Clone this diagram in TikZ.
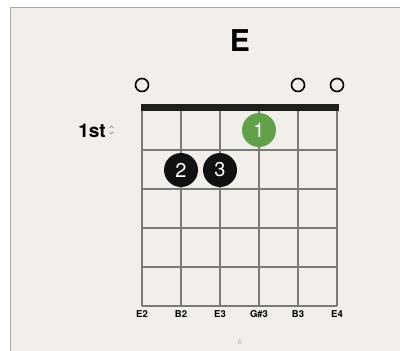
\documentclass[tikz,border=0pt]{standalone}
\usepackage{fontspec}
\setmainfont{TeX Gyre Heros}
\definecolor{bgpaper}{HTML}{F2EFEA}
\definecolor{framegray}{HTML}{A8A6A3}
\definecolor{gridgray}{HTML}{7A7A78}
\definecolor{fingergreen}{HTML}{62A04A}
\definecolor{fingerblack}{HTML}{111111}
\definecolor{faintgray}{HTML}{B0AEAA}
\tikzset{
  gridline/.style={draw=gridgray, line width=1.2pt},
  openstring/.style={circle, draw=black, line width=1.6pt, minimum size=13pt, inner sep=0pt},
  finger/.style={circle, minimum size=34pt, inner sep=0pt, text=white, font=\fontsize{20}{20}\selectfont},
  stringlabel/.style={font=\fontsize{9.5}{10}\selectfont\bfseries, text=black, inner sep=0pt},
}
\begin{document}
\begin{tikzpicture}[x=1pt,y=-1pt]
\useasboundingbox (0,0) rectangle (400,351);
\fill[white] (0,0) rectangle (400,351);
\fill[bgpaper] (10,7) rectangle (400,351);
\draw[framegray, line width=1pt] (10,351) -- (10,7) -- (400,7);
% title
\node[font=\fontsize{30}{30}\selectfont\bfseries] (title) at (240,41) {E};
% fret lines
\foreach \y/\n in {150/f1,189/f2,228/f3,267/f4,306/f5}
  \draw[gridline] (142,\y) -- (337,\y);
% strings
\foreach \x/\n in {142/s1,181/s2,220/s3,259/s4,298/s5,337/s6}
  \coordinate (\n top) at (\x,110);
\foreach \x/\n in {142/s1,181/s2,220/s3,259/s4,298/s5,337/s6}
  \coordinate (\n bot) at (\x,306);
\foreach \n in {s1,s2,s3,s4,s5,s6}
  \draw[gridline] (\n top) -- (\n bot);
% nut
\fill[black!88] (141,103.5) rectangle (339,110.5);
% open strings
\node[openstring] (o1) at (142,85) {};
\node[openstring] (o5) at (298,85) {};
\node[openstring] (o6) at (337,85) {};
% fingers
\node[finger, fill=fingergreen] (fg1) at (259,130) {1};
\node[finger, fill=fingerblack] (fg2) at (181,170) {2};
\node[finger, fill=fingerblack] (fg3) at (220,170) {3};
% fret position label
\node[font=\fontsize{19}{19}\selectfont\bfseries, anchor=east, inner sep=0pt] (pos) at (106,130.5) {1st};
\draw[gray, line width=0.5pt] (109.5,128) -- (111.5,126) -- (113.5,128);
\draw[gray, line width=0.5pt] (109.5,132) -- (111.5,134) -- (113.5,132);
% string labels
\foreach \x/\t/\n in {142/E2/l1,181/B2/l2,220/E3/l3,259/G\#3/l4,298/B3/l5,337/E4/l6}
  \node[stringlabel] (\n) at (\x,314) {\t};
% bottom faint label
\node[font=\fontsize{6.5}{7}\selectfont, text=faintgray, inner sep=0pt] (foot) at (240,342) {E};
\end{tikzpicture}
\end{document}
